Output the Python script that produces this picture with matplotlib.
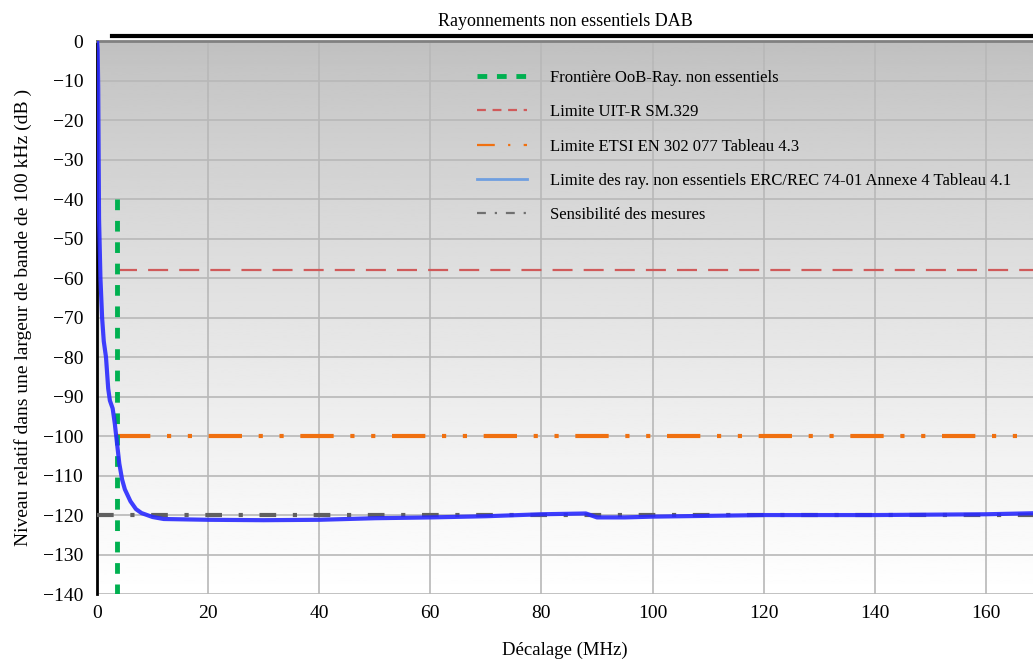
import matplotlib
matplotlib.use("Agg")
import matplotlib.pyplot as plt
import numpy as np
from matplotlib.lines import Line2D

plt.rcParams['font.family'] = ['Liberation Serif', 'DejaVu Serif']

# mesure (MHz, dB)
freq = [0, 0.1, 0.2, 0.35, 0.6, 0.9, 1.2, 1.4, 1.6, 2.0, 2.3, 2.8, 3.2, 3.6,
        4.0, 4.5, 5, 6, 7, 8, 10, 12, 20, 30, 40, 50, 60, 70, 80, 88, 90,
        95, 100, 110, 120, 140, 160, 170]
level = [0, -2, -12, -45, -60, -70, -76, -78, -80, -88, -91, -93, -97, -102,
         -107, -111, -113.5, -116.5, -118.5, -119.5, -120.5, -121, -121.2,
         -121.3, -121.2, -120.8, -120.6, -120.3, -119.8, -119.6, -120.6,
         -120.6, -120.4, -120.2, -120, -120, -119.8, -119.5]

oob_freq = 3.6
oob_top = -40
limite_sm329 = -58
limite_etsi = -100
sensibilite = -120
xmax = 168.5

fig = plt.figure(figsize=(10.33, 6.63), dpi=100)
ax = fig.add_axes([0.094, 0.104, 0.906, 0.834])

# fond en degrade gris -> blanc
grad = np.linspace(0, 1, 256).reshape(-1, 1) ** 0.8
ax.imshow(grad, extent=[0, xmax, -140, 0], aspect='auto', cmap='gray',
          vmin=-3.0, vmax=1.0, origin='upper', zorder=0)

ax.grid(True, color='#b8b8b8', lw=1.2, zorder=1)

ax.plot([oob_freq, oob_freq], [oob_top, -140], color='#00b050', lw=3.5,
        dashes=(2.2, 2.2), zorder=4)
ax.plot([oob_freq, xmax], [limite_sm329] * 2, color='#d05a5a', lw=1.6,
        dashes=(9, 5), zorder=3)
ax.plot([oob_freq, xmax], [limite_etsi] * 2, color='#f07010', lw=3,
        dashes=(8, 4, 1, 4, 1, 4), zorder=3)
ax.plot(freq, level, color='#2a2aff', lw=3, alpha=0.9, zorder=5,
        solid_joinstyle='round')
ax.plot([0, xmax], [sensibilite] * 2, color='#606060', lw=3,
        dashes=(4, 4, 1, 4), zorder=4)

handles = [
    Line2D([], [], color='#00b050', lw=3.5, dashes=(2, 2)),
    Line2D([], [], color='#d05a5a', lw=1.6, dashes=(4, 3)),
    Line2D([], [], color='#f07010', lw=1.6, dashes=(8, 6, 1, 6)),
    Line2D([], [], color='#6f9fe0', lw=2),
    Line2D([], [], color='#707070', lw=1.6, dashes=(4, 4, 1, 4)),
]
labels = ['Frontière OoB-Ray. non essentiels', 'Limite UIT-R SM.329',
          'Limite ETSI EN 302 077 Tableau 4.3',
          'Limite des ray. non essentiels ERC/REC 74-01 Annexe 4 Tableau 4.1',
          'Sensibilité des mesures']
ax.legend(handles, labels, loc='upper left', bbox_to_anchor=(0.39, 0.975),
          frameon=False, fontsize=12, handlelength=3.0, handletextpad=1.4,
          labelspacing=1.1)

ax.set_xlim(0, xmax)
ax.set_ylim(-140, 0)
ax.set_xticks(np.arange(0, 161, 20))
ax.set_yticks(np.arange(-140, 1, 10))
ax.tick_params(length=0, labelsize=14, pad=10)
ax.tick_params(axis='x', pad=8)

ax.spines['top'].set_color('#808080')
ax.spines['top'].set_linewidth(2)
ax.spines['right'].set_visible(False)
ax.spines['bottom'].set_visible(False)
ax.spines['left'].set_linewidth(2)
ax.spines['left'].set_color('black')

fig.add_artist(Line2D([0.108, 1.0], [0.946, 0.946], color='black', lw=3,
                      transform=fig.transFigure))

fig.text(0.547, 0.968, 'Rayonnements non essentiels DAB', ha='center',
         va='center', fontsize=13)
ax.set_ylabel('Niveau relatif dans une largeur de bande de 100 kHz (dB )',
              fontsize=14, labelpad=8)
ax.set_xlabel('Décalage (MHz)', fontsize=13.5, labelpad=14)

fig.savefig('out.png', dpi=100)
